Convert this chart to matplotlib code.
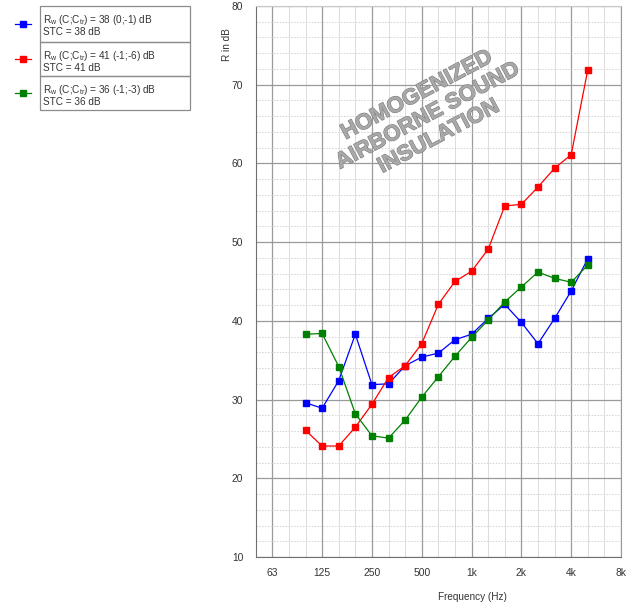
import matplotlib
matplotlib.use("Agg")
import matplotlib.pyplot as plt
import matplotlib.patheffects as pe
from matplotlib.patches import Rectangle
from matplotlib.lines import Line2D

plt.rcParams['font.family'] = ['Liberation Sans', 'DejaVu Sans']

# third-octave bands shown on the axis (50 Hz .. 8 kHz)
bands = ["50", "63", "80", "100", "125", "160", "200", "250", "315", "400", "500",
         "630", "800", "1000", "1250", "1600", "2000", "2500", "3150", "4000",
         "5000", "6300", "8000"]
octave_labels = ["63", "125", "250", "500", "1k", "2k", "4k", "8k"]
octave_bands = ["63", "125", "250", "500", "1000", "2000", "4000", "8000"]

# measured bands 100 Hz .. 5 kHz
meas_bands = bands[3:21]
blue_vals = [29.6, 28.9, 32.4, 38.3, 31.9, 32.0, 34.3, 35.4, 35.9, 37.6, 38.3,
             40.3, 42.1, 39.8, 37.1, 40.3, 43.8, 47.9]
red_vals = [26.1, 24.1, 24.1, 26.5, 29.4, 32.8, 34.3, 37.1, 42.1, 45.0, 46.3,
            49.1, 54.6, 54.8, 57.0, 59.4, 61.1, 71.9]
green_vals = [38.3, 38.4, 34.2, 28.2, 25.4, 25.1, 27.4, 30.3, 32.9, 35.5, 37.9,
              40.1, 42.4, 44.3, 46.2, 45.4, 44.9, 47.1]

series_colors = ["#0000ff", "#ff0000", "#008000"]
legend_lines = [
    (r"R$_\mathregular{w}$ (C;C$_\mathregular{tr}$) = 38 (0;-1) dB", "STC = 38 dB"),
    (r"R$_\mathregular{w}$ (C;C$_\mathregular{tr}$) = 41 (-1;-6) dB", "STC = 41 dB"),
    (r"R$_\mathregular{w}$ (C;C$_\mathregular{tr}$) = 36 (-1;-3) dB", "STC = 36 dB"),
]

W, H = 629, 606
fig = plt.figure(figsize=(W / 100, H / 100), dpi=100)
ax = fig.add_axes([255.7 / W, 1 - 557 / H, (621 - 255.7) / W, (557 - 6) / H])

idx = {b: i for i, b in enumerate(bands)}
xs = [idx[b] for b in meas_bands]

for vals, c in zip([blue_vals, red_vals, green_vals], series_colors):
    ax.plot(xs, vals, color=c, lw=0.9, marker='s', ms=4.6, mec=c, mfc=c, zorder=3)

ax.set_xlim(0, len(bands) - 1)
ax.set_ylim(10, 80)
ax.set_xticks([idx[b] for b in octave_bands])
ax.set_xticklabels(octave_labels)
ax.set_xticks(range(len(bands)), minor=True)
ax.set_yticks(range(10, 81, 10))
ax.set_yticks(range(10, 81, 2), minor=True)

ax.grid(which='major', axis='both', color='#9a9a9a', lw=0.9, zorder=1)
ax.grid(which='minor', axis='x', color='#dcdcdc', lw=0.7, zorder=0)
ax.grid(which='minor', axis='y', color='#d2d2d2', lw=0.7, ls=(0, (1.5, 1.5)), zorder=0)

ax.tick_params(which='both', length=0, labelsize=7.4, colors='#333333')
ax.tick_params(axis='y', pad=9)
ax.tick_params(axis='x', pad=8)

for s in ['left', 'bottom']:
    ax.spines[s].set_color('#707070')
ax.spines['top'].set_color('#c8c8c8')
ax.spines['right'].set_color('#9a9a9a')

ax.set_xlabel("Frequency (Hz)", fontsize=7.2, color='#333333')
ax.xaxis.set_label_coords((472 - 255.7) / (621 - 255.7), -35 / 551)
ax.set_ylabel("R in dB", fontsize=7.2, color='#333333')
ax.yaxis.set_label_coords((232 - 255.7) / (621 - 255.7), 1 - (45 - 6) / 551)

# overlay in figure pixel coordinates for legend boxes and watermark
ov = fig.add_axes([0, 0, 1, 1], zorder=5)
ov.set_xlim(0, W)
ov.set_ylim(H, 0)
ov.axis('off')
ov.patch.set_alpha(0)

ov.text(428, 116, "HOMOGENIZED\nAIRBORNE SOUND\nINSULATION", rotation=28,
        ha='center', va='center', multialignment='center', fontsize=16,
        fontweight='bold', color='#a8a8a8', linespacing=1.15,
        path_effects=[pe.withStroke(linewidth=0.8, foreground='#7e7e7e')])

row_tops = [5.7, 41.7, 76.0]
row_h = [36.0, 34.3, 33.8]
for (l1, l2), c, top, h in zip(legend_lines, series_colors, row_tops, row_h):
    ov.add_patch(Rectangle((39.5, top), 150, h, fill=False, ec='#8c8c8c', lw=0.9))
    my = top + h / 2
    ov.add_line(Line2D([15, 31], [my, my], color=c, lw=0.9))
    ov.add_line(Line2D([23], [my], color=c, marker='s', ms=4.6, mec=c, mfc=c, ls='none'))
    ov.text(43, top + 17.2, l1, fontsize=7.2, va='baseline', ha='left', color='#333333')
    ov.text(43, top + 29.0, l2, fontsize=7.2, va='baseline', ha='left', color='#333333')

fig.savefig("out.png", dpi=100)
